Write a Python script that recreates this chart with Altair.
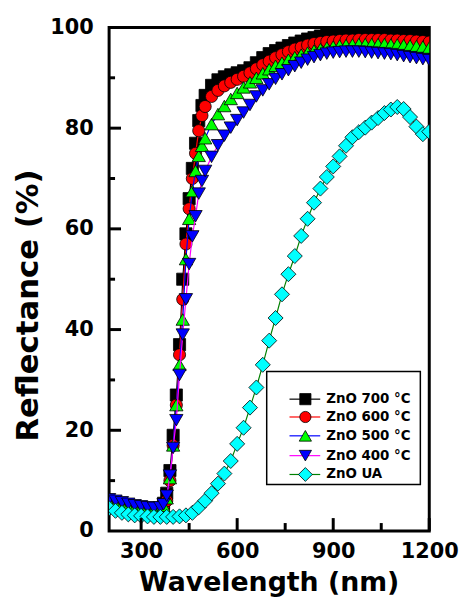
import altair as alt
import pandas as pd

# ---------------- data ----------------
WL = [200, 220, 240, 260, 280, 300, 320, 340, 360,
      370, 380, 390, 400, 410, 420, 430, 440, 450, 460, 470, 480, 490, 500,
      520, 540, 560, 580, 600, 620, 640, 660, 680, 700,
      720, 740, 760, 780, 800, 820, 840, 860, 880, 900,
      920, 940, 960, 980, 1000, 1020, 1040, 1060, 1080, 1100,
      1120, 1140, 1160, 1180, 1200]

R700 = [5.8, 5.5, 5.2, 4.9, 4.7, 4.5, 4.4, 4.3, 4.5,
        5.5, 7.5, 12, 19, 27, 37, 50, 59, 66, 72, 77, 81.5, 84.5, 86.5,
        88.5, 89.6, 90.2, 90.6, 91, 91.4, 92, 93, 94, 94.8,
        95.4, 95.9, 96.4, 96.9, 97.3, 97.7, 98, 98.3, 98.5, 98.6,
        98.7, 98.8, 98.8, 98.9, 98.9, 98.9, 98.9, 98.9, 98.9, 98.8,
        98.8, 98.7, 98.7, 98.6, 98.5]

R600 = [5.2, 5.0, 4.8, 4.6, 4.4, 4.3, 4.2, 4.1, 4.2,
        4.6, 6, 10, 17, 25, 35, 46, 57, 64, 70, 75, 79.5, 82.5, 84.3,
        86.3, 87.5, 88.4, 89.1, 89.7, 90.3, 91, 91.8, 92.6, 93.3,
        94, 94.6, 95.2, 95.7, 96.1, 96.5, 96.8, 97, 97.2, 97.3,
        97.4, 97.5, 97.5, 97.6, 97.6, 97.6, 97.6, 97.6, 97.5, 97.5,
        97.4, 97.4, 97.3, 97.2, 97.1]

R500 = [5.6, 5.3, 5.0, 4.8, 4.6, 4.4, 4.3, 4.2, 4.4,
        5, 6.5, 10.5, 17, 25, 33, 42, 54, 62, 67.5, 71.5, 74.5, 76.5, 78,
        80.8, 82.8, 84.4, 85.8, 87, 88.1, 89.1, 90, 90.9, 91.7,
        92.4, 93, 93.6, 94.1, 94.6, 95, 95.4, 95.7, 96, 96.2,
        96.4, 96.5, 96.6, 96.7, 96.7, 96.7, 96.7, 96.7, 96.6, 96.6,
        96.5, 96.4, 96.3, 96.2, 96.0]

R400 = [6.3, 6.0, 5.7, 5.4, 5.1, 4.9, 4.7, 4.6, 4.7,
        5.3, 7, 11, 16.5, 22, 31, 39, 46, 53, 58.5, 62.5, 67, 69.5, 71.5,
        74.3, 76.6, 78.5, 80.1, 81.6, 83.1, 84.6, 86.3, 87.5, 88.7,
        89.8, 90.7, 91.5, 92.3, 93, 93.6, 94.1, 94.5, 94.8, 95,
        95.1, 95.2, 95.2, 95.2, 95.1, 95, 94.9, 94.8, 94.7, 94.5,
        94.3, 94.1, 93.9, 93.7, 93.5]

WL_UA = [200, 220, 240, 260, 280, 300, 320, 340, 360, 380,
         400, 420, 440, 460, 480, 500, 520, 540, 560, 580,
         600, 620, 640, 660, 680, 700, 720, 740, 760, 780,
         800, 820, 840, 860, 880, 900, 920, 940, 960, 980,
         1000, 1020, 1040, 1060, 1080, 1100, 1120, 1140, 1160, 1180,
         1200]

RUA = [4.5, 4.0, 3.6, 3.3, 3.1, 3.0, 2.9, 2.8, 2.8, 2.8,
       2.8, 2.9, 3.1, 3.6, 4.7, 6.0, 7.5, 9.4, 11.4, 13.9,
       17.3, 20.5, 24.5, 28.5, 33, 37.8, 42.3, 47, 51, 54.6,
       58.6, 62, 65.2, 68, 70.3, 72.4, 74.4, 76.5, 78.2, 79.2,
       80.1, 81.1, 82, 83, 83.7, 84.2, 83.8, 82.2, 80.3, 78.8,
       79.3]

SERIES = ["ZnO 700 °C", "ZnO 600 °C", "ZnO 500 °C", "ZnO 400 °C", "ZnO UA"]
SERIES_DATA = [(WL, R700), (WL, R600), (WL, R500), (WL, R400), (WL_UA, RUA)]

X_MAJOR = [300, 600, 900, 1200]
X_MINOR = [450, 750, 1050]
Y_LABELS = [0, 20, 40, 60, 80, 100]
Y_MAJOR = [20, 40, 60, 80]
Y_MINOR = [10, 30, 50, 70, 90]

# ---------------- styles ----------------
STYLE = {
    "ZnO 700 °C": dict(shape="square", fill="#000000", line="#000000", size=150),
    "ZnO 600 °C": dict(shape="circle", fill="#ff0000", line="#ff0000", size=150),
    "ZnO 500 °C": dict(shape="triangle-up", fill="#00ff00", line="#0000ff", size=180),
    "ZnO 400 °C": dict(shape="triangle-down", fill="#0000ff", line="#ff00ff", size=180),
    "ZnO UA": dict(shape="diamond", fill="#00ffff", line="#008000", size=230),
}

W, H = 323, 508
FONT = "DejaVu Sans"

xscale = alt.Scale(domain=[200, 1200], nice=False, zero=False)
yscale = alt.Scale(domain=[0, 100], nice=False)

xaxis = alt.Axis(values=X_MAJOR, format="d", title="Wavelength (nm)", ticks=False, tickSize=0,
                 domain=False, grid=False, labelFlush=False,
                 labelFont=FONT, labelFontSize=21, labelFontWeight="bold",
                 labelColor="black", labelPadding=10,
                 titleFont=FONT, titleFontSize=27, titleFontWeight="bold",
                 titleColor="black", titleX=161, titleY=60,
                 titleBaseline="alphabetic", titleAlign="center")
yaxis = alt.Axis(values=Y_LABELS, format="d", title="Reflectance (%)", ticks=False, tickSize=0,
                 domain=False, grid=False,
                 labelFont=FONT, labelFontSize=21, labelFontWeight="bold",
                 labelColor="black", labelPadding=16,
                 titleFont=FONT, titleFontSize=31, titleFontWeight="bold",
                 titleColor="black", titleX=-81, titleY=280,
                 titleBaseline="middle", titleAlign="center", titleAngle=270)


def X():
    return alt.X("wl:Q", scale=xscale, axis=xaxis)


def Y():
    return alt.Y("R:Q", scale=yscale, axis=yaxis)


layers = []
for name, (wl, vals) in zip(SERIES, SERIES_DATA):
    st = STYLE[name]
    d = pd.DataFrame({"wl": wl, "R": vals, "series": name})
    layers.append(alt.Chart(d).mark_line(color=st["line"], strokeWidth=1.2, clip=True)
                  .encode(x=X(), y=Y()))
    layers.append(alt.Chart(d).mark_point(shape=st["shape"], filled=True, fill=st["fill"],
                                          stroke="black", strokeWidth=0.8, size=st["size"],
                                          opacity=1, clip=True)
                  .encode(x=X(), y=Y()))

# inward ticks
xt_major = pd.DataFrame({"wl": X_MAJOR})
xt_minor = pd.DataFrame({"wl": X_MINOR})
yt_major = pd.DataFrame({"R": Y_MAJOR})
yt_minor = pd.DataFrame({"R": Y_MINOR})
layers.append(alt.Chart(xt_major).mark_rule(color="black", strokeWidth=3)
              .encode(x=X(), y=alt.value(H), y2=alt.value(H - 13)))
layers.append(alt.Chart(xt_minor).mark_rule(color="black", strokeWidth=3)
              .encode(x=X(), y=alt.value(H), y2=alt.value(H - 8)))
layers.append(alt.Chart(yt_major).mark_rule(color="black", strokeWidth=3)
              .encode(y=Y(), x=alt.value(0), x2=alt.value(12)))
layers.append(alt.Chart(yt_minor).mark_rule(color="black", strokeWidth=3)
              .encode(y=Y(), x=alt.value(0), x2=alt.value(6)))

# legend (manual: line + symbol + label)
LEG_BOX = dict(x=159, x2=314, y=347, y2=461)
LEG_ROWS = [375, 393, 412, 432, 451]
LEG_LINE_X = (182, 213)
LEG_SYM_X = 198
LEG_TEXT_X = 219

one = pd.DataFrame({"k": [0]})
layers.append(alt.Chart(one).mark_rect(fill="white", stroke="black", strokeWidth=1.5)
              .encode(x=alt.value(LEG_BOX["x"]), x2=alt.value(LEG_BOX["x2"]),
                      y=alt.value(LEG_BOX["y"]), y2=alt.value(LEG_BOX["y2"])))
for name, ry in zip(SERIES, LEG_ROWS):
    st = STYLE[name]
    layers.append(alt.Chart(one).mark_rule(color=st["line"], strokeWidth=1.2)
                  .encode(x=alt.value(LEG_LINE_X[0]), x2=alt.value(LEG_LINE_X[1]),
                          y=alt.value(ry)))
    layers.append(alt.Chart(one).mark_point(shape=st["shape"], filled=True, fill=st["fill"],
                                            stroke="black", strokeWidth=0.8,
                                            size=st["size"] * 0.85, opacity=1)
                  .encode(x=alt.value(LEG_SYM_X), y=alt.value(ry)))
    layers.append(alt.Chart(one).mark_text(align="left", baseline="middle", font=FONT,
                                           fontWeight="bold", fontSize=13.5, color="black")
                  .encode(x=alt.value(LEG_TEXT_X), y=alt.value(ry), text=alt.value(name)))

chart = alt.layer(*layers).properties(
    width=W, height=H,
    autosize=alt.AutoSizeParams(type="none"),
    padding={"left": 102, "top": 17, "right": 30, "bottom": 66},
    background="white",
).configure_view(stroke="black", strokeWidth=3)

chart.save("out.html", embed_options={"renderer": "svg", "actions": False})
